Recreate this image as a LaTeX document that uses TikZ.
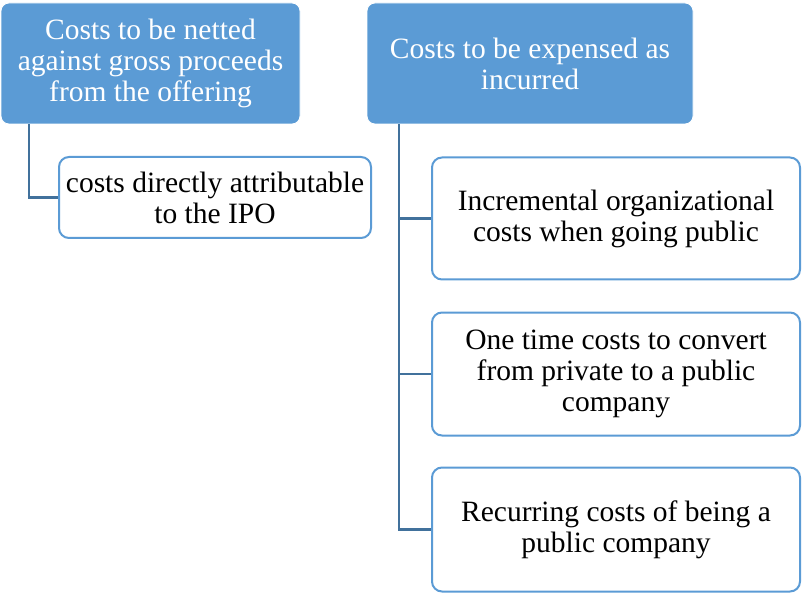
\documentclass[tikz,border=0pt]{standalone}
\usepackage{fontspec}
\setmainfont{Liberation Serif}
\definecolor{headfill}{HTML}{5B9BD5}
\definecolor{childline}{HTML}{5B9BD5}
\definecolor{connline}{HTML}{41719C}
\begin{document}
\begin{tikzpicture}[x=1pt,y=-1pt,
  head/.style={draw=white, line width=0.8pt, fill=headfill, rounded corners=8pt, text=white, align=center, inner sep=0pt, font=\fontsize{29.5}{31}\selectfont},
  child/.style={draw=childline, line width=2pt, fill=white, rounded corners=10pt, text=black, align=center, inner sep=0pt, font=\fontsize{29.5}{31}\selectfont},
  conn/.style={draw=connline, line width=2.2pt}]
\useasboundingbox (0,0) rectangle (802,593);
\node[head, minimum width=299pt, minimum height=121pt] (h1) at (150.5,63.5) {Costs to be netted\\against gross proceeds\\from the offering};
\node[head, minimum width=326pt, minimum height=121pt] (h2) at (530,63.5) {Costs to be expensed as\\incurred};
\node[child, minimum width=312pt, minimum height=81pt] (c1) at (215,197.5) {costs directly attributable\\to the IPO};
\node[child, minimum width=368pt, minimum height=122pt] (c2) at (616,218.5) {Incremental organizational\\costs when going public};
\node[child, minimum width=368pt, minimum height=123pt] (c3) at (616,374) {One time costs to convert\\from private to a public\\company};
\node[child, minimum width=368pt, minimum height=124pt] (c4) at (616,529.5) {Recurring costs of being a\\public company};
\coordinate (j1) at (29,0);
\coordinate (j2) at (399,0);
\draw[conn] (h1.south -| j1) |- (c1.west);
\draw[conn] (h2.south -| j2) |- (c4.west);
\draw[conn] (c2.west -| j2) -- (c2.west);
\draw[conn] (c3.west -| j2) -- (c3.west);
\end{tikzpicture}
\end{document}
